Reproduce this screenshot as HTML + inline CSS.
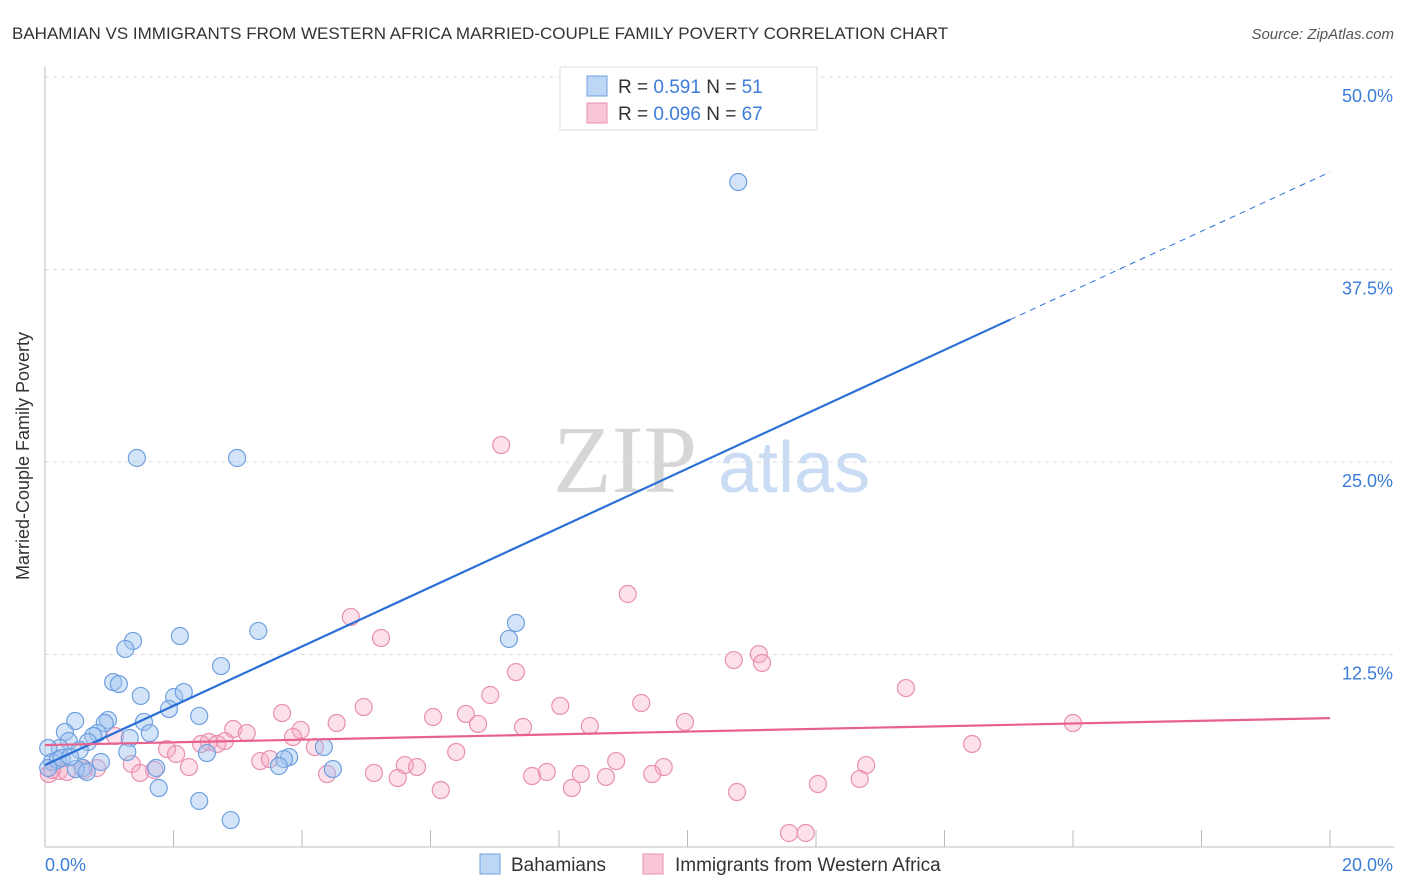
<!DOCTYPE html>
<html><head><meta charset="utf-8"><style>
body{margin:0;background:#fff;font-family:"Liberation Sans",sans-serif}
svg{display:block}
</style></head><body>
<svg id="c" width="1406" height="892" xmlns="http://www.w3.org/2000/svg">
<text x="12" y="39" font-size="17" fill="#333">BAHAMIAN VS IMMIGRANTS FROM WESTERN AFRICA MARRIED-COUPLE FAMILY POVERTY CORRELATION CHART</text>
<text x="1394" y="39" font-size="15" fill="#555" font-style="italic" text-anchor="end">Source: ZipAtlas.com</text>
<g>
<text x="553" y="492" font-size="96" font-family="Liberation Serif,serif" fill="#d6d6d6">ZIP</text>
<text x="718" y="492" font-size="72" fill="#c9dcf3">atlas</text>
</g>
<g id="grid"></g><g id="axes"></g><g id="pts"></g><g id="lines"></g>
<text x="29" y="456" font-size="18" fill="#333" text-anchor="middle" transform="rotate(-90 29 456)">Married-Couple Family Poverty</text>
<g>
<rect x="560" y="67" width="257" height="63" fill="#fff" stroke="#ddd"/>
<rect x="587" y="76" width="20" height="20" fill="#bdd6f5" stroke="#6fa0e0"/>
<text x="618" y="93" font-size="19" fill="#333">R = <tspan fill="#3b7dd8">0.591</tspan>   N = <tspan fill="#3b7dd8">51</tspan></text>
<rect x="587" y="103" width="20" height="20" fill="#f9c6d6" stroke="#e890b0"/>
<text x="618" y="120" font-size="19" fill="#333">R = <tspan fill="#3b7dd8">0.096</tspan>   N = <tspan fill="#3b7dd8">67</tspan></text>
</g>
<g>
<rect x="480" y="854" width="20" height="20" fill="#bdd6f5" stroke="#6fa0e0"/>
<text x="511" y="871" font-size="19" fill="#333">Bahamians</text>
<rect x="643" y="854" width="20" height="20" fill="#f9c6d6" stroke="#e890b0"/>
<text x="675" y="871" font-size="19" fill="#333">Immigrants from Western Africa</text>
</g>
</svg>
<script>
const blueX=[10.79,1.43,2.99,7.33,7.22,3.32,2.10,1.37,1.25,2.74,1.06,1.15,1.49,2.01,2.16,1.93,2.40,0.47,0.98,0.93,1.54,0.31,1.63,0.82,0.75,1.32,0.37,0.67,0.23,0.54,0.05,1.28,2.52,3.80,3.72,4.34,0.87,1.73,0.11,0.20,4.48,3.64,0.59,0.48,0.05,0.65,1.77,2.40,2.89,0.26,0.39];
const blueY=[43.18,25.26,25.26,14.55,13.51,14.03,13.70,13.38,12.86,11.75,10.71,10.58,9.81,9.74,10.06,8.96,8.51,8.18,8.25,8.05,8.12,7.47,7.40,7.40,7.21,7.08,6.88,6.82,6.43,6.30,6.43,6.17,6.10,5.84,5.71,6.49,5.52,5.13,5.52,5.65,5.06,5.26,5.13,5.06,5.13,4.87,3.83,2.99,1.75,5.78,5.84];
const pinkX=[7.10,9.07,4.76,5.23,7.33,11.11,10.72,11.16,13.40,6.93,9.28,8.02,4.96,3.69,6.04,6.55,6.74,4.54,7.44,8.48,9.96,16.00,2.93,3.14,3.98,1.09,3.86,2.55,2.43,2.68,2.80,14.43,1.90,4.20,6.40,2.04,3.35,3.50,1.35,2.24,5.60,5.79,8.89,9.63,12.78,7.81,1.48,1.70,4.39,5.12,7.58,8.34,8.73,9.45,5.49,0.22,0.06,0.11,0.34,0.61,0.81,6.16,8.20,10.77,12.03,12.68,11.58,11.84];
const pinkY=[26.10,16.43,14.94,13.57,11.36,12.53,12.14,11.95,10.32,9.87,9.35,9.16,9.09,8.70,8.44,8.64,7.99,8.05,7.79,7.86,8.12,8.05,7.66,7.40,7.60,7.21,7.14,6.82,6.69,6.69,6.88,6.69,6.36,6.49,6.17,6.04,5.58,5.71,5.39,5.19,5.32,5.19,5.58,5.19,5.32,4.87,4.81,5.00,4.74,4.81,4.61,4.74,4.55,4.74,4.48,4.94,4.74,5.00,4.87,5.00,5.13,3.70,3.83,3.57,4.09,4.42,0.91,0.91];
const yTicks=[12.5,25,37.5,50];
const yTickLabels=["12.5%","25.0%","37.5%","50.0%"];
const xTickCount=10;
const blueTrend=[5.32,43.83], blueSolidEnd=15.02;
const pinkTrend=[6.62,8.37];
const sx=v=>45+v/20*1285, sy=v=>847-v/50*770;
const NS="http://www.w3.org/2000/svg";
function mk(p,t,a){const e=document.createElementNS(NS,t);for(const k in a)e.setAttribute(k,a[k]);p.appendChild(e);return e;}
const grid=document.getElementById('grid'),axes=document.getElementById('axes'),pts=document.getElementById('pts'),lines=document.getElementById('lines');
yTicks.forEach((t,i)=>{
 const l=mk(grid,'line',{x1:45,x2:1394,y1:sy(t),y2:sy(t),stroke:'#ddd','stroke-dasharray':'4,4'});
 
 
 const tx=mk(axes,'text',{x:1393,y:sy(t)+25,'font-size':18,fill:'#3b7dd8','text-anchor':'end'});
 tx.textContent=yTickLabels[i];
 
 
});
const ya=mk(axes,'line',{x1:45,x2:45,y1:67,y2:847,stroke:'#bbb'});


const xa=mk(axes,'line',{x1:45,x2:1394,y1:847,y2:847,stroke:'#bbb'});


for(let i=0;i<=xTickCount;i++){
 const x=sx(i*2);
 const tk=mk(axes,'line',{x1:x,x2:x,y1:830,y2:847,stroke:'#bbb'});
 
 
}
[[0,'0.0%','start',45],[20,'20.0%','end',1393]].forEach(([v,s,a,x])=>{
 const t=mk(axes,'text',{x:x,y:871,'font-size':18,fill:'#3b7dd8','text-anchor':a});
 t.textContent=s;
 
 
});
pinkX.forEach((x,i)=>{
 const c=mk(pts,'circle',{cx:sx(x),cy:sy(pinkY[i]),r:8.5,fill:'rgba(245,165,195,0.35)',stroke:'#e890b0','stroke-width':1.2});
 
 
});
blueX.forEach((x,i)=>{
 const c=mk(pts,'circle',{cx:sx(x),cy:sy(blueY[i]),r:8.5,fill:'rgba(160,196,240,0.45)',stroke:'#6fa0e0','stroke-width':1.2});
 
 
});
const by=x=>blueTrend[0]+(blueTrend[1]-blueTrend[0])*x/20;
const b1=mk(lines,'line',{x1:sx(0),y1:sy(by(0)),x2:sx(blueSolidEnd),y2:sy(by(blueSolidEnd)),stroke:'#2a6fd6','stroke-width':2.2});


const b2=mk(lines,'line',{x1:sx(blueSolidEnd),y1:sy(by(blueSolidEnd)),x2:sx(20),y2:sy(by(20)),stroke:'#2a6fd6','stroke-width':1,'stroke-dasharray':'6,5'});


const p1=mk(lines,'line',{x1:sx(0),y1:sy(pinkTrend[0]),x2:sx(20),y2:sy(pinkTrend[1]),stroke:'#e8608e','stroke-width':2.2});


</script>
</body></html>
